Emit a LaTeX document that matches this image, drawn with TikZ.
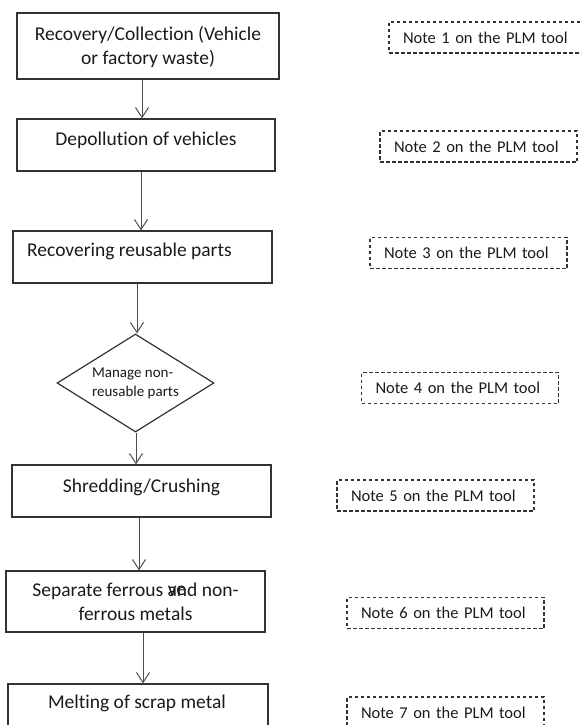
\documentclass[tikz,border=0pt]{standalone}
\usepackage{fontspec}
\setmainfont{Carlito}[Ligatures=NoCommon]
\usetikzlibrary{arrows.meta,shapes.geometric}
\definecolor{ink}{HTML}{1A1A1A}
\definecolor{edge}{HTML}{333333}
\definecolor{wire}{HTML}{4D4D4D}
\begin{document}
\begin{tikzpicture}[x=1pt,y=-1pt,
  stepbox/.style={draw=edge,line width=1.2pt,inner sep=0pt},
  steptext/.style={text=ink,font=\fontsize{19.5}{24}\selectfont,align=center,inner sep=0pt},
  decision/.style={diamond,draw=edge,line width=1.2pt,inner sep=0pt,minimum width=157pt,minimum height=98pt},
  decisiontext/.style={text=ink,font=\fontsize{15}{19}\selectfont,align=left,inner sep=0pt},
  notebox/.style={draw=edge,line width=1.1pt,dash pattern=on 3.5pt off 2.5pt,minimum height=31pt,
    text width=169pt,inner xsep=14pt,inner ysep=0pt,align=left,text=ink,font=\fontsize{16.5}{19}\selectfont},
  flow/.style={draw=wire,line width=1pt,-{Straight Barb[length=10pt,width=13pt]}}
]
\useasboundingbox (0,0) rectangle (581,725);
\clip (0,0) rectangle (581,725);

% process steps
\node[stepbox,minimum width=262pt,minimum height=66pt] (b1) at (148,46) {};
\node[steptext] (t1) at ([yshift=-1pt]b1.center) {Recovery/Collection (Vehicle\\or factory waste)};

\node[stepbox,minimum width=258pt,minimum height=52pt] (b2) at (146,145) {};
\node[steptext] (t2) at ([yshift=5pt]b2.center) {Depollution of vehicles};

\node[stepbox,minimum width=259pt,minimum height=52pt] (b3) at (142.5,257) {};
\node[steptext,anchor=west] (t3) at (27,251) {Recovering reusable parts};

\node[decision] (d4) at (135.5,383) {};
\node[decisiontext] (t4) at (d4.center) {Manage non-\\reusable parts};

\node[stepbox,minimum width=259pt,minimum height=52pt] (b5) at (141.5,491) {};
\node[steptext] (t5) at ([yshift=4pt]b5.center) {Shredding/Crushing};

\node[stepbox,minimum width=259pt,minimum height=61pt] (b6) at (135.5,601.5) {};
\node[steptext] (t6) at (b6.center) {Separate ferrous and non-\\ferrous metals};
\node[steptext] (t6b) at (177,591) {ve};

\node[stepbox,minimum width=260pt,minimum height=52pt] (b7) at (138,710) {};
\node[steptext] (t7) at (137,703) {Melting of scrap metal};

% connectors
\draw[flow] (b1.south -| 142,0) -- (b2.north -| 142,0);
\draw[flow] (b2.south -| 141,0) -- (b3.north -| 141,0);
\draw[flow] (b3.south -| 137,0) -- (d4.north -| 137,0);
\draw[flow] (d4.south -| 136,0) -- (b5.north -| 136,0);
\draw[flow] (b5.south -| 139,0) -- (b6.north -| 139,0);
\draw[flow] (b6.south -| 143,0) -- (b7.north -| 143,0);

% notes
\node[notebox] (n1) at (487.5,37.5) {Note 1 on the PLM tool};
\node[notebox] (n2) at (478.5,146.5) {Note 2 on the PLM tool};
\node[notebox] (n3) at (468.5,253) {Note 3 on the PLM tool};
\node[notebox] (n4) at (460,388) {Note 4 on the PLM tool};
\node[notebox] (n5) at (435.5,495.5) {Note 5 on the PLM tool};
\node[notebox] (n6) at (445.5,613) {Note 6 on the PLM tool};
\node[notebox] (n7) at (445.5,712.5) {Note 7 on the PLM tool};
\end{tikzpicture}
\end{document}
